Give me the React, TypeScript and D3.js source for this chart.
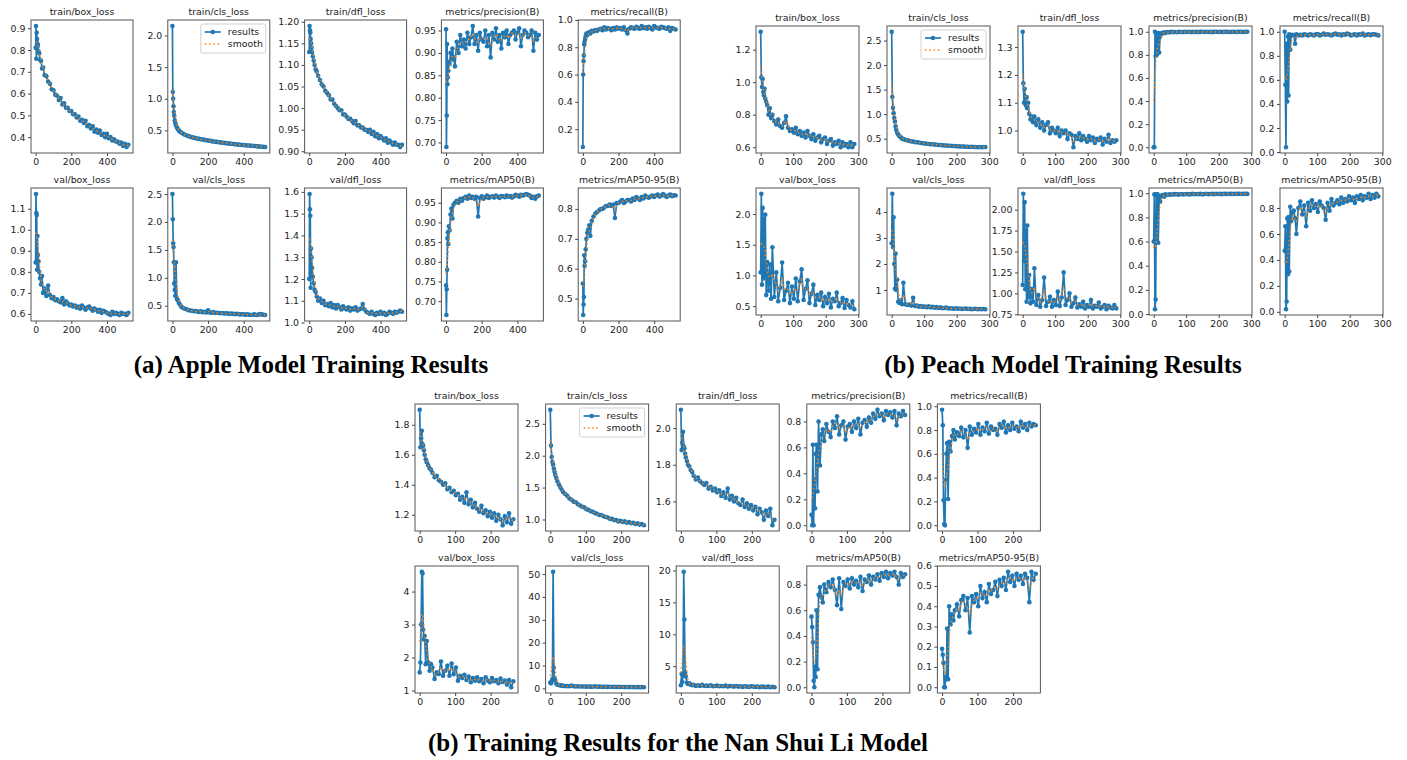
import { useRef, useEffect } from 'react';
import * as d3 from 'd3';

// ---- Apple model (epochs 0..520) ----
const appleEpochs = [0,2,4,6,8,10,13,16,20,25,30,36,42,50,60,70,80,90,100,110,120,130,140,150,160,170,180,190,200,210,220,230,240,250,260,270,280,290,300,310,320,330,340,350,360,370,380,390,400,410,420,430,440,450,460,470,480,490,500,510,520];
const appleTrainBox = [0.81,0.91,0.76,0.88,0.85,0.83,0.82,0.795,0.785,0.755,0.75,0.715,0.72,0.685,0.68,0.655,0.645,0.62,0.615,0.595,0.59,0.57,0.58,0.55,0.555,0.535,0.535,0.52,0.52,0.505,0.505,0.49,0.495,0.475,0.48,0.465,0.475,0.45,0.455,0.44,0.45,0.425,0.435,0.42,0.43,0.41,0.415,0.40,0.415,0.395,0.40,0.385,0.39,0.38,0.38,0.37,0.375,0.36,0.37,0.355,0.365];
const appleTrainCls = [2.15,1.11,1.0,0.88,0.79,0.73,0.66,0.62,0.58,0.545,0.52,0.50,0.48,0.465,0.445,0.43,0.42,0.41,0.40,0.39,0.385,0.375,0.37,0.365,0.36,0.355,0.35,0.345,0.34,0.335,0.33,0.325,0.32,0.318,0.313,0.31,0.305,0.302,0.298,0.295,0.29,0.288,0.285,0.282,0.278,0.275,0.272,0.27,0.267,0.265,0.262,0.26,0.257,0.255,0.252,0.25,0.247,0.245,0.242,0.24,0.238];
const appleTrainDfl = [1.13,1.19,1.18,1.175,1.16,1.15,1.14,1.13,1.12,1.11,1.10,1.09,1.085,1.075,1.065,1.055,1.05,1.04,1.035,1.03,1.02,1.02,1.01,1.005,1.0,0.995,0.995,0.985,0.985,0.98,0.975,0.975,0.97,0.965,0.97,0.96,0.96,0.955,0.955,0.95,0.95,0.945,0.95,0.94,0.945,0.935,0.94,0.93,0.935,0.93,0.925,0.93,0.92,0.925,0.92,0.915,0.92,0.915,0.915,0.91,0.915];
const applePrecision = [0.953,0.69,0.76,0.92,0.83,0.845,0.86,0.88,0.875,0.90,0.885,0.91,0.89,0.87,0.925,0.90,0.94,0.915,0.93,0.91,0.945,0.92,0.935,0.96,0.92,0.94,0.905,0.945,0.93,0.925,0.95,0.915,0.94,0.89,0.945,0.93,0.955,0.925,0.94,0.91,0.945,0.935,0.95,0.92,0.94,0.945,0.95,0.93,0.945,0.955,0.915,0.94,0.95,0.945,0.935,0.94,0.95,0.905,0.945,0.93,0.94];
const appleRecall = [0.07,0.60,0.70,0.74,0.82,0.84,0.86,0.88,0.90,0.89,0.905,0.91,0.90,0.92,0.915,0.925,0.92,0.93,0.935,0.925,0.945,0.93,0.94,0.935,0.925,0.94,0.93,0.945,0.935,0.94,0.93,0.945,0.925,0.90,0.935,0.945,0.94,0.935,0.95,0.94,0.935,0.955,0.94,0.945,0.935,0.95,0.94,0.93,0.955,0.945,0.94,0.935,0.95,0.945,0.94,0.935,0.945,0.92,0.94,0.935,0.93];
const appleValBox = [0.845,1.17,1.08,1.07,0.81,0.97,0.88,0.85,0.80,0.77,0.74,0.78,0.70,0.72,0.685,0.735,0.69,0.675,0.68,0.665,0.67,0.66,0.655,0.675,0.645,0.66,0.65,0.64,0.645,0.635,0.64,0.63,0.635,0.625,0.64,0.63,0.62,0.63,0.635,0.625,0.615,0.625,0.62,0.61,0.62,0.605,0.615,0.61,0.605,0.60,0.595,0.61,0.60,0.605,0.60,0.595,0.605,0.60,0.60,0.595,0.605];
const appleValCls = [2.5,2.05,1.62,1.55,1.28,0.90,0.78,0.68,1.28,0.62,0.60,0.55,0.52,0.48,0.46,0.445,0.435,0.42,0.415,0.41,0.40,0.405,0.395,0.39,0.40,0.385,0.39,0.38,0.42,0.38,0.375,0.385,0.37,0.375,0.37,0.365,0.37,0.36,0.365,0.36,0.355,0.36,0.355,0.35,0.355,0.35,0.345,0.35,0.345,0.34,0.345,0.34,0.335,0.34,0.345,0.335,0.34,0.35,0.345,0.34,0.335];
const appleValDfl = [1.20,1.59,1.52,1.49,1.16,1.34,1.30,1.25,1.21,1.18,1.15,1.14,1.12,1.10,1.11,1.09,1.10,1.08,1.085,1.075,1.09,1.07,1.08,1.065,1.08,1.07,1.06,1.075,1.065,1.06,1.07,1.055,1.065,1.06,1.07,1.055,1.06,1.065,1.085,1.06,1.05,1.045,1.04,1.05,1.04,1.035,1.045,1.04,1.05,1.04,1.045,1.035,1.04,1.05,1.045,1.04,1.05,1.045,1.05,1.055,1.05];
const appleMap50 = [0.74,0.665,0.73,0.78,0.86,0.875,0.845,0.89,0.88,0.92,0.935,0.91,0.945,0.95,0.955,0.95,0.96,0.955,0.962,0.965,0.96,0.968,0.962,0.965,0.96,0.965,0.915,0.962,0.966,0.96,0.964,0.968,0.962,0.965,0.966,0.963,0.968,0.965,0.962,0.967,0.966,0.964,0.968,0.965,0.967,0.963,0.966,0.97,0.968,0.965,0.97,0.968,0.97,0.972,0.97,0.968,0.962,0.965,0.96,0.966,0.968];
const appleMap5095 = [0.55,0.445,0.48,0.505,0.645,0.61,0.625,0.665,0.70,0.72,0.73,0.745,0.71,0.76,0.775,0.785,0.79,0.795,0.80,0.80,0.805,0.81,0.81,0.815,0.81,0.815,0.77,0.82,0.82,0.825,0.83,0.82,0.825,0.83,0.83,0.825,0.835,0.83,0.84,0.835,0.83,0.84,0.835,0.845,0.84,0.838,0.842,0.845,0.84,0.845,0.848,0.842,0.845,0.85,0.845,0.84,0.845,0.848,0.843,0.846,0.845];
const appleXTicks = [0, 200, 400];
const appleYTicks = [
  ['0.4','0.5','0.6','0.7','0.8','0.9'],
  ['0.5','1.0','1.5','2.0'],
  ['0.90','0.95','1.00','1.05','1.10','1.15','1.20'],
  ['0.70','0.75','0.80','0.85','0.90','0.95'],
  ['0.2','0.4','0.6','0.8','1.0'],
  ['0.6','0.7','0.8','0.9','1.0','1.1'],
  ['0.5','1.0','1.5','2.0','2.5'],
  ['1.0','1.1','1.2','1.3','1.4','1.5','1.6'],
  ['0.70','0.75','0.80','0.85','0.90','0.95'],
  ['0.5','0.6','0.7','0.8'],
];

// ---- Peach model (epochs 0..288) ----
const peachEpochs = [0,2,4,6,8,10,12,14,17,20,24,28,32,36,42,48,54,60,66,72,78,84,90,96,102,108,114,120,126,132,138,144,150,156,162,168,174,180,186,192,198,204,210,216,222,228,234,240,246,252,258,264,270,276,282,288];
const peachTrainBox = [1.31,1.03,0.97,1.02,0.94,0.92,0.96,0.90,0.88,0.86,0.80,0.84,0.78,0.80,0.76,0.74,0.77,0.73,0.72,0.75,0.79,0.72,0.70,0.71,0.69,0.72,0.68,0.70,0.67,0.69,0.66,0.70,0.67,0.65,0.68,0.64,0.66,0.67,0.63,0.65,0.66,0.62,0.64,0.65,0.61,0.63,0.62,0.64,0.60,0.63,0.61,0.62,0.60,0.63,0.60,0.62];
const peachTrainCls = [2.68,1.35,1.13,1.02,0.92,0.85,0.75,0.68,0.62,0.585,0.55,0.525,0.50,0.49,0.475,0.465,0.455,0.445,0.44,0.43,0.425,0.42,0.41,0.405,0.40,0.395,0.39,0.385,0.385,0.38,0.375,0.37,0.37,0.365,0.36,0.36,0.355,0.355,0.35,0.35,0.345,0.345,0.34,0.34,0.34,0.335,0.335,0.33,0.335,0.33,0.33,0.325,0.33,0.325,0.33,0.33];
const peachTrainDfl = [1.355,1.17,1.10,1.15,1.12,1.09,1.12,1.08,1.10,1.06,1.04,1.05,1.03,1.05,1.02,1.04,1.01,1.03,1.00,1.02,1.03,0.99,1.01,1.00,0.99,1.01,0.98,1.00,0.99,1.0,0.97,0.99,0.985,0.94,0.98,0.97,0.99,0.965,0.98,0.97,0.96,0.98,0.965,0.975,0.955,0.97,0.965,0.975,0.95,0.97,0.96,0.985,0.955,0.965,0.96,0.965];
const peachPrecision = [0.0,0.0,1.0,0.79,0.99,0.80,0.83,0.99,0.82,0.96,0.99,0.985,0.995,0.99,0.998,0.995,0.999,0.997,0.998,0.996,0.999,0.998,0.997,0.999,0.998,1.0,0.997,0.999,0.998,0.999,0.997,0.999,1.0,0.998,0.999,0.998,0.999,0.997,0.999,1.0,0.998,0.999,0.998,0.999,1.0,0.999,0.998,0.999,1.0,0.998,0.999,1.0,0.999,0.998,0.999,1.0];
const peachRecall = [1.0,0.56,0.04,0.90,0.42,0.96,0.47,0.98,0.85,0.97,0.975,0.97,0.90,0.98,0.97,0.975,0.97,0.98,0.975,0.97,0.98,0.975,0.97,0.978,0.982,0.97,0.975,0.985,0.975,0.98,0.975,0.97,0.98,0.985,0.975,0.98,0.97,0.98,0.975,0.985,0.98,0.97,0.975,0.98,0.97,0.98,0.975,0.985,0.97,0.975,0.98,0.972,0.978,0.98,0.975,0.97];
const peachValBox = [1.05,2.33,0.85,2.10,0.95,1.92,1.0,1.99,0.68,1.22,0.75,1.18,0.62,1.46,0.65,1.05,0.58,0.80,1.21,0.60,0.75,0.88,0.55,0.82,0.62,0.95,0.58,0.90,1.10,0.60,0.78,0.92,0.55,0.70,0.85,0.52,0.68,0.60,0.72,0.50,0.65,0.55,0.70,0.48,0.62,0.58,0.72,0.50,0.55,0.63,0.47,0.60,0.52,0.48,0.58,0.45];
const peachValCls = [2.8,4.7,2.65,3.8,2.0,1.05,2.4,1.0,1.4,0.55,0.50,0.60,0.45,1.28,0.45,0.42,0.44,0.40,0.70,0.38,0.40,0.36,0.38,0.35,0.36,0.34,0.37,0.33,0.35,0.32,0.34,0.31,0.33,0.30,0.31,0.32,0.29,0.30,0.29,0.28,0.30,0.28,0.29,0.27,0.28,0.29,0.27,0.28,0.26,0.27,0.28,0.26,0.27,0.26,0.27,0.26];
const peachValDfl = [1.10,2.19,1.39,2.09,1.05,1.75,0.90,1.81,0.95,1.22,0.88,1.05,0.90,1.30,0.86,0.98,0.84,0.92,1.19,0.85,0.90,0.96,0.84,0.92,0.86,1.02,0.85,0.95,1.25,0.86,0.92,1.00,0.84,0.88,0.95,0.83,0.87,0.84,0.90,0.82,0.86,0.84,0.92,0.82,0.85,0.84,0.89,0.82,0.84,0.86,0.81,0.85,0.83,0.82,0.86,0.82];
const peachMap50 = [0.60,0.99,0.04,0.12,0.99,0.60,0.99,0.59,0.97,0.93,0.98,0.985,0.97,0.99,0.985,0.99,0.988,0.99,0.992,0.99,0.988,0.993,0.99,0.991,0.993,0.99,0.992,0.994,0.991,0.993,0.992,0.994,0.99,0.993,0.995,0.992,0.993,0.994,0.992,0.995,0.993,0.994,0.992,0.995,0.994,0.993,0.995,0.994,0.993,0.995,0.994,0.995,0.993,0.994,0.995,0.994];
const peachMap5095 = [0.47,0.66,0.02,0.08,0.72,0.29,0.73,0.31,0.81,0.70,0.77,0.78,0.72,0.60,0.80,0.85,0.75,0.82,0.66,0.84,0.78,0.86,0.80,0.83,0.77,0.85,0.82,0.80,0.71,0.84,0.78,0.87,0.82,0.84,0.86,0.83,0.88,0.84,0.87,0.85,0.89,0.86,0.88,0.84,0.89,0.87,0.90,0.86,0.89,0.88,0.91,0.87,0.90,0.88,0.91,0.89];
const peachXTicks = [0, 100, 200, 300];
const peachYTicks = [
  ['0.6','0.8','1.0','1.2'],
  ['0.5','1.0','1.5','2.0','2.5'],
  ['1.0','1.1','1.2','1.3'],
  ['0.0','0.2','0.4','0.6','0.8','1.0'],
  ['0.0','0.2','0.4','0.6','0.8','1.0'],
  ['0.5','1.0','1.5','2.0'],
  ['1','2','3','4'],
  ['0.75','1.00','1.25','1.50','1.75','2.00'],
  ['0.0','0.2','0.4','0.6','0.8','1.0'],
  ['0.0','0.2','0.4','0.6','0.8'],
];

// ---- Nan Shui Li model (epochs 0..264) ----
const nslEpochs = [0,2,4,6,8,10,12,14,17,20,24,28,32,36,42,48,54,60,66,72,78,84,90,96,102,108,114,120,126,132,138,144,150,156,162,168,174,180,186,192,198,204,210,216,222,228,234,240,246,252,258,264];
const nslTrainBox = [1.90,1.65,1.71,1.76,1.67,1.66,1.63,1.60,1.57,1.55,1.53,1.51,1.50,1.48,1.45,1.46,1.43,1.42,1.40,1.41,1.37,1.38,1.35,1.36,1.33,1.34,1.30,1.32,1.28,1.35,1.27,1.30,1.25,1.28,1.24,1.22,1.26,1.21,1.23,1.19,1.22,1.18,1.21,1.16,1.20,1.17,1.13,1.19,1.15,1.21,1.14,1.17];
const nslTrainCls = [2.72,2.16,1.98,1.90,1.86,1.80,1.75,1.70,1.65,1.60,1.55,1.51,1.47,1.43,1.40,1.37,1.33,1.31,1.28,1.27,1.24,1.22,1.20,1.19,1.16,1.15,1.13,1.12,1.10,1.09,1.07,1.07,1.05,1.04,1.03,1.01,1.01,0.99,0.99,0.97,0.98,0.96,0.97,0.95,0.96,0.94,0.95,0.93,0.94,0.92,0.93,0.91];
const nslTrainDfl = [2.10,1.88,1.92,1.98,1.90,1.89,1.86,1.84,1.82,1.80,1.79,1.77,1.76,1.74,1.72,1.73,1.71,1.70,1.69,1.70,1.67,1.68,1.66,1.67,1.65,1.66,1.63,1.65,1.62,1.67,1.61,1.63,1.60,1.62,1.59,1.58,1.61,1.57,1.59,1.56,1.58,1.55,1.57,1.53,1.56,1.54,1.50,1.55,1.52,1.56,1.47,1.50];
const nslPrecision = [0.08,0.0,0.62,0.0,0.35,0.13,0.55,0.62,0.26,0.80,0.46,0.70,0.74,0.65,0.78,0.72,0.68,0.80,0.75,0.84,0.70,0.77,0.80,0.66,0.76,0.78,0.72,0.80,0.75,0.82,0.70,0.79,0.81,0.76,0.83,0.79,0.86,0.82,0.89,0.84,0.86,0.81,0.88,0.85,0.87,0.83,0.88,0.77,0.86,0.84,0.88,0.85];
const nslRecall = [0.97,0.84,0.21,0.01,0.0,0.38,0.60,0.69,0.22,0.70,0.62,0.75,0.80,0.72,0.78,0.75,0.82,0.74,0.80,0.65,0.83,0.76,0.81,0.78,0.85,0.76,0.82,0.79,0.86,0.77,0.83,0.80,0.81,0.76,0.85,0.82,0.87,0.78,0.84,0.80,0.86,0.81,0.83,0.79,0.87,0.82,0.85,0.80,0.86,0.83,0.85,0.84];
const nslValBox = [1.55,1.85,3.0,4.6,4.55,2.85,2.55,2.65,1.80,2.50,1.85,1.60,1.80,1.70,1.35,1.55,1.50,1.88,1.45,1.60,1.75,1.45,1.82,1.50,1.70,1.30,1.45,1.38,1.48,1.32,1.42,1.25,1.38,1.30,1.40,1.28,1.35,1.22,1.40,1.30,1.25,1.38,1.28,1.32,1.22,1.36,1.26,1.30,1.18,1.32,1.10,1.28];
const nslValCls = [2.5,2.2,3.0,4.0,51.0,9.0,4.2,3.5,2.0,1.6,1.5,1.3,1.2,1.1,1.0,1.0,0.9,1.2,0.9,0.85,0.9,0.8,0.85,0.8,0.75,0.8,0.75,0.7,0.9,0.7,0.75,0.7,0.65,0.7,0.65,0.7,0.6,0.65,0.6,0.65,0.6,0.6,0.55,0.6,0.55,0.6,0.55,0.5,0.55,0.5,0.55,0.5];
const nslValDfl = [2.0,3.8,2.5,3.5,19.8,12.3,4.0,3.4,2.4,2.2,2.3,2.1,2.0,2.1,1.9,2.0,1.9,2.1,1.9,1.95,1.9,2.0,1.85,1.9,1.95,1.85,1.9,1.85,1.95,1.8,1.9,1.85,1.8,1.9,1.8,1.85,1.75,1.85,1.8,1.75,1.85,1.8,1.75,1.8,1.7,1.8,1.75,1.7,1.8,1.7,1.75,1.7];
const nslMap50 = [0.55,0.47,0.35,0.05,0.0,0.16,0.08,0.60,0.14,0.72,0.78,0.70,0.66,0.80,0.74,0.82,0.78,0.84,0.76,0.64,0.85,0.61,0.82,0.79,0.84,0.77,0.85,0.80,0.83,0.78,0.86,0.75,0.84,0.82,0.87,0.80,0.86,0.84,0.88,0.83,0.89,0.86,0.90,0.85,0.89,0.87,0.90,0.86,0.80,0.89,0.86,0.88];
const nslMap5095 = [0.19,0.16,0.12,0.0,0.0,0.05,0.04,0.29,0.04,0.40,0.31,0.36,0.33,0.38,0.41,0.35,0.43,0.45,0.38,0.44,0.27,0.45,0.42,0.46,0.40,0.50,0.44,0.47,0.42,0.51,0.46,0.48,0.52,0.45,0.53,0.50,0.54,0.48,0.57,0.52,0.55,0.50,0.56,0.53,0.55,0.51,0.56,0.54,0.42,0.57,0.53,0.56];
const nslXTicks = [0, 100, 200];
const nslYTicks = [
  ['1.2','1.4','1.6','1.8'],
  ['1.0','1.5','2.0','2.5'],
  ['1.6','1.8','2.0'],
  ['0.0','0.2','0.4','0.6','0.8'],
  ['0.0','0.2','0.4','0.6','0.8','1.0'],
  ['1','2','3','4'],
  ['0','10','20','30','40','50'],
  ['5','10','15','20'],
  ['0.0','0.2','0.4','0.6','0.8'],
  ['0.0','0.1','0.2','0.3','0.4','0.5','0.6'],
];

const panelTitles = ['train/box_loss', 'train/cls_loss', 'train/dfl_loss', 'metrics/precision(B)', 'metrics/recall(B)',
  'val/box_loss', 'val/cls_loss', 'val/dfl_loss', 'metrics/mAP50(B)', 'metrics/mAP50-95(B)'];

const groups = [
  {
    epochs: appleEpochs, xTicks: appleXTicks, yTicks: appleYTicks,
    series: [appleTrainBox, appleTrainCls, appleTrainDfl, applePrecision, appleRecall, appleValBox, appleValCls, appleValDfl, appleMap50, appleMap5095],
    left: 31, dx: 136.8, w: 102, tops: [20, 188], h: 133,
    caption: '(a) Apple Model Training Results', cx: 311, cy: 373,
  },
  {
    epochs: peachEpochs, xTicks: peachXTicks, yTicks: peachYTicks,
    series: [peachTrainBox, peachTrainCls, peachTrainDfl, peachPrecision, peachRecall, peachValBox, peachValCls, peachValDfl, peachMap50, peachMap5095],
    left: 756, dx: 131, w: 103, tops: [26, 188], h: 127,
    caption: '(b) Peach Model Training Results', cx: 1063, cy: 373,
  },
  {
    epochs: nslEpochs, xTicks: nslXTicks, yTicks: nslYTicks,
    series: [nslTrainBox, nslTrainCls, nslTrainDfl, nslPrecision, nslRecall, nslValBox, nslValCls, nslValDfl, nslMap50, nslMap5095],
    left: 415, dx: 130.6, w: 103, tops: [404, 566], h: 127,
    caption: '(b) Training Results for the Nan Shui Li Model', cx: 678, cy: 751,
  },
];

const FONT = 'DejaVu Sans, sans-serif';
const BLUE = '#1f77b4';
const ORANGE = '#ff7f0e';

export default function App() {
  const svgRef = useRef<SVGSVGElement>(null);

  useEffect(() => {
    if (!svgRef.current) return;
    const svg = d3.select(svgRef.current);
    svg.selectAll('*').remove();

    groups.forEach(grp => {
      grp.series.forEach((values, i) => {
        const col = i % 5;
        const row = Math.floor(i / 5);
        const bx = grp.left + col * grp.dx;
        const by = grp.tops[row];
        const n = Math.min(values.length, grp.epochs.length);
        const pts = d3.range(n).map(k => [grp.epochs[k], values[k]] as [number, number]);

        const ex = d3.extent(pts, d => d[0]) as [number, number];
        const ey = d3.extent(pts, d => d[1]) as [number, number];
        const px = (ex[1] - ex[0]) * 0.05;
        const py = (ey[1] - ey[0]) * 0.05;
        const x = d3.scaleLinear().domain([ex[0] - px, ex[1] + px]).range([bx, bx + grp.w]);
        const y = d3.scaleLinear().domain([ey[0] - py, ey[1] + py]).range([by + grp.h, by]);

        // gaussian smoothing over epochs
        const sigma = ex[1] * 0.016;
        const smooth = pts.map(([e]) => {
          let sw = 0, sv = 0;
          pts.forEach(([e2, v2]) => {
            const wgt = Math.exp(-((e2 - e) ** 2) / (2 * sigma * sigma));
            sw += wgt; sv += wgt * v2;
          });
          return [e, sv / sw] as [number, number];
        });

        const g = svg.append('g');
        const labels = grp.yTicks[i];

        const xa = g.append('g')
          .attr('transform', `translate(0,${by + grp.h})`)
          .call(d3.axisBottom(x).tickValues(grp.xTicks).tickSize(3).tickPadding(2.5).tickFormat(d3.format('d')));
        const ya = g.append('g')
          .attr('transform', `translate(${bx},0)`)
          .call(d3.axisLeft(y).tickValues(labels.map(Number)).tickSize(3).tickPadding(2.5).tickFormat((_, k) => labels[k]));
        [xa, ya].forEach(a => {
          a.select('.domain').remove();
          a.attr('font-family', FONT).attr('font-size', 9.4);
          a.selectAll('line').attr('stroke', '#444');
          a.selectAll('text').attr('fill', '#222');
        });

        const line = d3.line<[number, number]>().x(d => x(d[0])).y(d => y(d[1]));

        g.append('path')
          .datum(pts)
          .attr('fill', 'none')
          .attr('stroke', BLUE)
          .attr('stroke-width', 1.7)
          .attr('d', line);

        g.selectAll('circle')
          .data(pts)
          .join('circle')
          .attr('cx', d => x(d[0]))
          .attr('cy', d => y(d[1]))
          .attr('r', 2.3)
          .attr('fill', BLUE);

        g.append('path')
          .datum(smooth)
          .attr('fill', 'none')
          .attr('stroke', ORANGE)
          .attr('stroke-width', 1.5)
          .attr('stroke-dasharray', '1.5,2.8')
          .attr('d', line);

        g.append('rect')
          .attr('x', bx).attr('y', by)
          .attr('width', grp.w).attr('height', grp.h)
          .attr('fill', 'none')
          .attr('stroke', '#555')
          .attr('stroke-width', 1);

        g.append('text')
          .attr('x', bx + grp.w / 2)
          .attr('y', by - 5)
          .attr('text-anchor', 'middle')
          .attr('font-family', FONT)
          .attr('font-size', 9.4)
          .attr('fill', '#222')
          .text(panelTitles[i]);

        // legend in train/cls_loss panel
        if (i === 1) {
          const lw = 65, lh = 29;
          const lx = bx + grp.w - lw - 4;
          const ly = by + 4;
          const lg = g.append('g');
          lg.append('rect')
            .attr('x', lx).attr('y', ly).attr('width', lw).attr('height', lh)
            .attr('rx', 2).attr('fill', 'white').attr('fill-opacity', 0.85)
            .attr('stroke', '#d0d0d0');
          lg.append('line')
            .attr('x1', lx + 4).attr('x2', lx + 20).attr('y1', ly + 8).attr('y2', ly + 8)
            .attr('stroke', BLUE).attr('stroke-width', 1.7);
          lg.append('circle').attr('cx', lx + 12).attr('cy', ly + 8).attr('r', 2.3).attr('fill', BLUE);
          lg.append('line')
            .attr('x1', lx + 4).attr('x2', lx + 20).attr('y1', ly + 20).attr('y2', ly + 20)
            .attr('stroke', ORANGE).attr('stroke-width', 1.5).attr('stroke-dasharray', '1.5,2.8');
          ['results', 'smooth'].forEach((t, k) => {
            lg.append('text')
              .attr('x', lx + 27).attr('y', ly + 11.3 + k * 12)
              .attr('font-family', FONT).attr('font-size', 9.4).attr('fill', '#222')
              .text(t);
          });
        }
      });

      svg.append('text')
        .attr('x', grp.cx)
        .attr('y', grp.cy)
        .attr('text-anchor', 'middle')
        .attr('font-family', 'Liberation Serif, Times New Roman, serif')
        .attr('font-weight', 'bold')
        .attr('font-size', 25)
        .attr('fill', '#000')
        .text(grp.caption);
    });
  }, []);

  return (
    <svg
      ref={svgRef}
      width={1407}
      height={760}
      style={{ position: 'absolute', left: 0, top: 0, background: '#fff' }}
    />
  );
}
